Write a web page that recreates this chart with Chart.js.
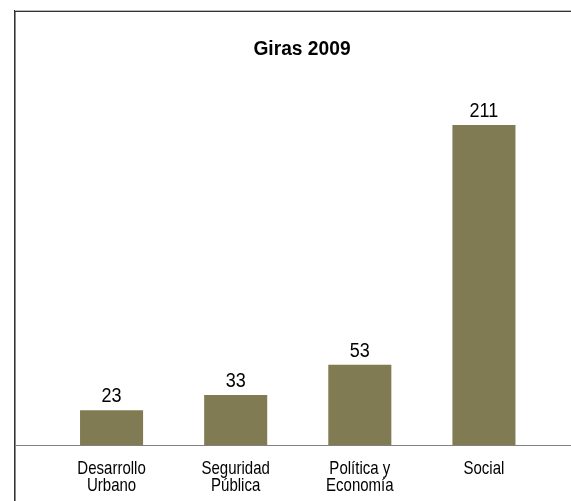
<!DOCTYPE html>
<html>
<head>
<meta charset="utf-8">
<script src="https://cdn.jsdelivr.net/npm/chart.js@4/dist/chart.umd.min.js"></script>
<style>
html,body{margin:0;padding:0;background:#fff;}
#c{display:block;}
</style>
</head>
<body>
<canvas id="c" width="571" height="501"></canvas>
<script>
const chartTitle = "Giras 2009";
const categories = [["Desarrollo","Urbano"],["Seguridad","Pública"],["Política y","Economía"],["Social"]];
const values = [23, 33, 53, 211];
const barColor = "#807b52";

function drawScaledText(ctx, text, x, y, sx) {
  ctx.save();
  ctx.translate(x, y);
  ctx.scale(sx, 1);
  ctx.fillText(text, 0, 0);
  ctx.restore();
}

const framePlugin = {
  id: 'frame',
  beforeDraw(chart) {
    const ctx = chart.ctx;
    ctx.save();
    ctx.fillStyle = '#ffffff';
    ctx.fillRect(0, 0, chart.width, chart.height);
    // border
    ctx.fillStyle = '#b8b8b8';
    ctx.fillRect(14, 10, chart.width - 14, 1);
    ctx.fillStyle = '#333333';
    ctx.fillRect(15, 11, chart.width - 15, 1);
    ctx.fillStyle = '#333333';
    ctx.fillRect(14, 10, 1, chart.height - 10);
    ctx.fillStyle = '#8a8a8a';
    ctx.fillRect(15, 12, 1, chart.height - 12);
    // title
    ctx.fillStyle = '#000';
    ctx.font = 'bold 20px "Liberation Sans", Arial, sans-serif';
    ctx.textAlign = 'center';
    ctx.textBaseline = 'alphabetic';
    drawScaledText(ctx, chartTitle, 302, 55, 0.96);
    ctx.restore();
  },
  afterDatasetsDraw(chart) {
    const ctx = chart.ctx;
    ctx.save();
    const yScale = chart.scales.y;
    const xScale = chart.scales.x;
    const y0 = Math.round(yScale.getPixelForValue(0));
    // baseline axis
    ctx.fillStyle = '#808080';
    ctx.fillRect(15, y0, chart.width - 15, 1);
    // value labels
    const meta = chart.getDatasetMeta(0);
    ctx.fillStyle = '#000';
    ctx.font = '20px "Liberation Sans", Arial, sans-serif';
    ctx.textAlign = 'center';
    ctx.textBaseline = 'alphabetic';
    meta.data.forEach((bar, i) => {
      drawScaledText(ctx, String(values[i]), bar.x, bar.y - 8, 0.9);
    });
    // category labels (narrow style)
    ctx.font = '19px "Liberation Sans", Arial, sans-serif';
    categories.forEach((lab, i) => {
      const x = xScale.getPixelForTick(i);
      const lines = Array.isArray(lab) ? lab : [lab];
      lines.forEach((ln, j) => {
        drawScaledText(ctx, ln, x, y0 + 29 + j * 17, 0.79);
      });
    });
    ctx.restore();
  }
};

new Chart(document.getElementById('c'), {
  type: 'bar',
  data: {
    labels: categories,
    datasets: [{
      data: values,
      backgroundColor: barColor,
      borderWidth: 0,
      barPercentage: 0.508,
      categoryPercentage: 1.0
    }]
  },
  options: {
    responsive: false,
    animation: false,
    devicePixelRatio: 1,
    layout: { padding: { left: 49.5, right: 25, top: 66, bottom: 0 } },
    plugins: { legend: { display: false }, title: { display: false }, tooltip: { enabled: false } },
    scales: {
      x: {
        grid: { display: false, drawTicks: false },
        border: { display: false },
        ticks: { display: false },
        afterFit(scale) { scale.height = 56; }
      },
      y: {
        display: false,
        min: 0,
        max: 250
      }
    }
  },
  plugins: [framePlugin]
});
</script>
</body>
</html>
